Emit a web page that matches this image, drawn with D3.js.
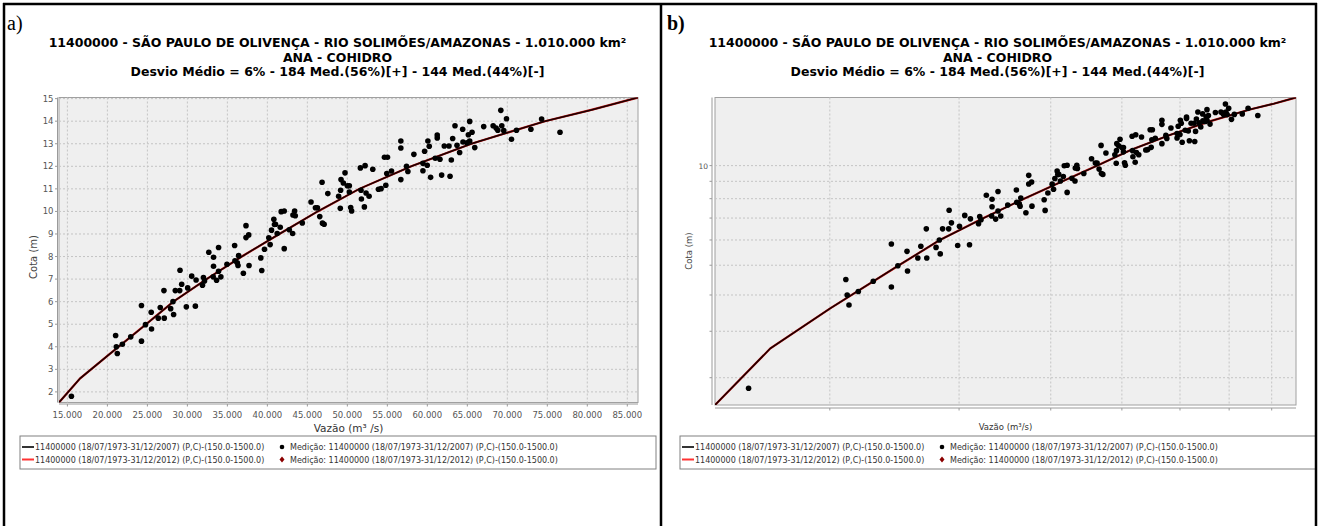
<!DOCTYPE html>
<html>
<head>
<meta charset="utf-8">
<script src="https://cdn.jsdelivr.net/npm/d3@7"></script>
<style>
  body { margin: 0; background: #fff; }
  svg { display: block; }
</style>
</head>
<body>
<svg id="chart" width="1319" height="526"></svg>
<script>
const vazaoMed = [15500, 21030, 21120, 21240, 21870, 22920, 24260, 24260, 24760, 25480, 25520, 26610, 26360, 27070, 27110, 27910,
  28200, 28280, 28490, 29040, 29080, 29290, 29870, 30040, 30540, 31000, 31090, 31890, 32010, 32140, 32680, 33270, 33270, 33230,
  33650, 33900, 33900, 34190, 34950, 35910, 35950, 36240, 36330, 36410, 37000, 37330, 37330, 37670, 37710, 39180, 39300, 39640,
  40180, 40350, 40520, 40810, 40890, 41020, 41230, 41610, 41730, 42110, 42110, 42740, 43160, 43200, 43410, 43490, 44370, 45460,
  46010, 46260, 46550, 46840, 46890, 47100, 47560,
  48910, 49160, 49210, 49120, 49500, 49710, 50000, 50250, 50250, 50420, 50540, 51630, 51710, 51760, 52130, 52220, 52340, 52720,
  53180, 53890, 54220, 54640, 55020, 54810, 54930, 55520, 56690, 56690, 56690, 57400, 57570, 58320, 59450, 59450, 59660, 59990,
  60070, 60240, 60410, 60990, 61240, 61240, 61580, 61790, 62120, 62710, 62840, 63000, 63170, 63460, 63710, 64040, 64420, 64460,
  64960, 65130, 65300, 65300, 65590, 65930, 67050, 68230, 68600, 68810, 69190, 69310, 69560, 69900, 70520, 71150, 72950, 74290,
  76590];
const cotaMed = [1.81, 4.50, 4.00, 3.70, 4.11, 4.44, 5.83, 4.25, 4.98, 5.53, 4.79, 5.74, 5.27, 6.49, 5.27, 5.69,
  6.00, 5.43, 6.49, 6.49, 7.39, 6.77, 5.77, 6.61, 7.13, 5.80, 6.96, 6.73, 7.07, 6.92, 8.19, 7.97, 7.57, 7.10,
  6.95, 8.40, 7.35, 7.10, 7.66, 8.49, 7.81, 7.72, 7.60, 8.04, 7.26, 9.37, 8.84, 8.96, 7.60, 7.94, 7.38, 8.32,
  8.83, 8.53, 9.17, 9.65, 9.42, 9.43, 9.02, 9.30, 9.99, 10.02, 8.35, 9.19, 9.02, 9.84, 10.02, 9.81, 9.49, 10.42,
  10.16, 10.16, 9.77, 11.29, 9.48, 9.43, 10.79,
  10.67, 10.94, 11.41, 10.14, 11.26, 11.71, 11.14, 11.14, 10.86, 10.17, 10.02, 11.93, 10.94, 10.55, 10.20, 12.03, 10.82, 10.67,
  11.87, 10.98, 11.01, 12.40, 12.40, 11.16, 11.68, 11.79, 13.12, 12.81, 11.41, 12.00, 11.77, 12.53, 12.13, 11.80, 12.67, 12.05,
  13.12, 12.89, 11.51, 12.36, 13.39, 13.26, 12.31, 11.61, 12.90, 12.90, 11.56, 12.28, 13.23, 13.80, 12.93, 12.61, 13.64, 13.08,
  13.04, 13.40, 13.99, 13.12, 13.51, 12.83, 13.76, 13.80, 13.70, 13.60, 14.48, 13.80, 13.58, 14.11, 13.20, 13.60, 13.64, 14.10,
  13.51];

// rating curve vertices
const curvaVazao = [13950, 16600, 20000, 24850, 28250, 32400, 36800, 41500, 46300, 51500, 58000, 65500, 74700, 80500, 86340];
const curvaCota  = [1.53, 2.6, 3.6, 5, 6, 7, 8, 9, 10, 11, 12, 13, 14, 14.5, 15.05];

const xTicks = [15000, 20000, 25000, 30000, 35000, 40000, 45000, 50000, 55000, 60000, 65000, 70000, 75000, 80000, 85000];
const yTicks = [2, 3, 4, 5, 6, 7, 8, 9, 10, 11, 12, 13, 14, 15];
const logGridX = [20000, 30000, 40000, 50000, 60000, 70000, 80000];
const logGridY = [2, 3, 4, 5, 6, 7, 8, 9, 10];
const logLabelsY = [10];

const titleLines = [
  "11400000 - SÃO PAULO DE OLIVENÇA - RIO SOLIMÕES/AMAZONAS - 1.010.000 km²",
  "ANA - COHIDRO",
  "Desvio Médio = 6% - 184 Med.(56%)[+] - 144 Med.(44%)[-]"
];
const legendRows = [
  { curve: "11400000 (18/07/1973-31/12/2007) (P,C)-(150.0-1500.0)", med: "Medição: 11400000 (18/07/1973-31/12/2007) (P,C)-(150.0-1500.0)", color: "#333333", mark: "circle" },
  { curve: "11400000 (18/07/1973-31/12/2012) (P,C)-(150.0-1500.0)", med: "Medição: 11400000 (18/07/1973-31/12/2012) (P,C)-(150.0-1500.0)", color: "#ff3333", mark: "diamond" }
];

const svg = d3.select("#chart");
const fmt = d3.formatLocale({ decimal: ",", thousands: ".", grouping: [3], currency: ["", ""] }).format(",d");
// JFreeChart LogarithmicAxis adjusted log10 (values below 10 are shifted)
const adjLog = v => Math.log10(v < 10 ? v + (10 - v) / 10 : v);

const points = vazaoMed.map((q, i) => ({ q: q, h: cotaMed[i] }));
const curve = curvaVazao.map((q, i) => ({ q: q, h: curvaCota[i] }));

function drawPanel(ox, isLog) {
  const g = svg.append("g");
  const plot = isLog ? { x0: 715, x1: 1296, y0: 97.5, y1: 405, ax: 3 } : { x0: 59, x1: 638, y0: 97.5, y1: 402.5, ax: 1.5 };
  const cx = ox + 333.5;

  let x, y;
  if (isLog) {
    x = d3.scaleLog().domain(d3.extent(curvaVazao)).range([plot.x0, plot.x1]);
    const yl = d3.scaleLinear().domain(d3.extent(curvaCota).map(adjLog)).range([plot.y1, plot.y0]);
    y = v => yl(adjLog(v));
  } else {
    x = d3.scaleLinear().domain(d3.extent(curvaVazao)).range([plot.x0, plot.x1]);
    y = d3.scaleLinear().domain(d3.extent(curvaCota)).range([plot.y1, plot.y0]);
  }

  // panel letter
  g.append("text")
    .attr("x", ox + 3)
    .attr("y", 30)
    .attr("font-family", "Liberation Serif")
    .attr("font-size", 20)
    .attr("font-weight", isLog ? "bold" : "normal")
    .text(isLog ? "b)" : "a)");

  g.selectAll(".title")
    .data(titleLines)
    .enter()
    .append("text")
    .attr("x", cx)
    .attr("y", (d, i) => 47 + i * 14.5)
    .attr("text-anchor", "middle")
    .attr("font-family", "DejaVu Sans")
    .attr("font-weight", "bold")
    .attr("font-size", 12.5)
    .text(d => d);

  g.append("rect")
    .attr("x", plot.x0)
    .attr("y", plot.y0)
    .attr("width", plot.x1 - plot.x0)
    .attr("height", plot.y1 - plot.y0)
    .attr("fill", "#efefef")
    .attr("stroke", "#a0a0a0");

  const gx = isLog ? logGridX : xTicks;
  const gy = isLog ? logGridY : yTicks;

  g.selectAll(".gx")
    .data(gx)
    .enter()
    .append("line")
    .attr("x1", d => x(d)).attr("x2", d => x(d))
    .attr("y1", plot.y0).attr("y2", plot.y1)
    .attr("stroke", "#c4c4c4")
    .attr("stroke-dasharray", "2,2");

  g.selectAll(".gy")
    .data(gy)
    .enter()
    .append("line")
    .attr("x1", plot.x0).attr("x2", plot.x1)
    .attr("y1", d => y(d)).attr("y2", d => y(d))
    .attr("stroke", "#c4c4c4")
    .attr("stroke-dasharray", "2,2");

  // axis lines, offset a little from the plot like JFreeChart does
  const axB = plot.y1 + plot.ax;
  const axL = plot.x0 - plot.ax;
  g.append("line")
    .attr("x1", plot.x0).attr("x2", plot.x1)
    .attr("y1", axB).attr("y2", axB)
    .attr("stroke", "#9a9a9a");
  g.append("line")
    .attr("x1", axL).attr("x2", axL)
    .attr("y1", plot.y0).attr("y2", plot.y1)
    .attr("stroke", "#9a9a9a");

  g.selectAll(".tx")
    .data(gx)
    .enter()
    .append("line")
    .attr("x1", d => x(d)).attr("x2", d => x(d))
    .attr("y1", axB).attr("y2", axB + 2.5)
    .attr("stroke", "#9a9a9a");

  g.selectAll(".ty")
    .data(gy)
    .enter()
    .append("line")
    .attr("x1", axL - 2.5).attr("x2", axL)
    .attr("y1", d => y(d)).attr("y2", d => y(d))
    .attr("stroke", "#9a9a9a");

  if (!isLog) {
    g.selectAll(".lx")
      .data(xTicks)
      .enter()
      .append("text")
      .attr("x", d => x(d))
      .attr("y", 418)
      .attr("text-anchor", "middle")
      .attr("font-family", "DejaVu Sans")
      .attr("font-size", 8.5)
      .attr("fill", "#555")
      .text(d => fmt(d));
  }

  g.selectAll(".ly")
    .data(isLog ? logLabelsY : yTicks)
    .enter()
    .append("text")
    .attr("x", axL - 4)
    .attr("y", d => y(d) + 3)
    .attr("text-anchor", "end")
    .attr("font-family", "DejaVu Sans")
    .attr("font-size", isLog ? 7.5 : 8.5)
    .attr("fill", "#555")
    .text(d => d);

  g.append("text")
    .attr("transform", isLog ? "translate(692,251) rotate(-90)" : "translate(37,257) rotate(-90)")
    .attr("text-anchor", "middle")
    .attr("font-family", "DejaVu Sans")
    .attr("font-size", isLog ? 8.5 : 10)
    .attr("fill", "#444")
    .text("Cota (m)");

  g.append("text")
    .attr("x", (plot.x0 + plot.x1) / 2)
    .attr("y", isLog ? 430 : 432)
    .attr("text-anchor", "middle")
    .attr("font-family", "DejaVu Sans")
    .attr("font-size", isLog ? 8.5 : 10.5)
    .attr("fill", "#333")
    .text(isLog ? "Vazão (m³/s)" : "Vazão (m³ /s)");

  // clip marks to the plot area
  const clipId = "clip" + ox;
  g.append("clipPath").attr("id", clipId)
    .append("rect")
    .attr("x", plot.x0).attr("y", plot.y0)
    .attr("width", plot.x1 - plot.x0).attr("height", plot.y1 - plot.y0);
  const marks = g.append("g").attr("clip-path", `url(#${clipId})`);

  const line = d3.line().x(d => x(d.q)).y(d => y(d.h));
  marks.append("path")
    .datum(curve)
    .attr("d", line)
    .attr("fill", "none")
    .attr("stroke", "#c01010")
    .attr("stroke-width", 2.2);
  marks.append("path")
    .datum(curve)
    .attr("d", line)
    .attr("fill", "none")
    .attr("stroke", "#1a0000")
    .attr("stroke-width", 1.5);

  marks.selectAll(".pt")
    .data(points)
    .enter()
    .append("circle")
    .attr("cx", d => x(d.q))
    .attr("cy", d => y(d.h))
    .attr("r", 2.8)
    .attr("fill", "#000");

  // legend
  const bx = ox + 16;
  const bw = 636;
  g.append("rect")
    .attr("x", bx).attr("y", 436)
    .attr("width", bw).attr("height", 33)
    .attr("fill", "#fff")
    .attr("stroke", "#808080");

  const row = g.selectAll(".leg")
    .data(legendRows)
    .enter()
    .append("g")
    .attr("transform", (d, i) => `translate(${bx},${447 + i * 12.5})`);

  row.append("line")
    .attr("x1", 2).attr("x2", 14)
    .attr("y1", 0).attr("y2", 0)
    .attr("stroke", d => d.color)
    .attr("stroke-width", 2);

  row.append("text")
    .attr("x", 15)
    .attr("y", 3)
    .attr("font-family", "DejaVu Sans")
    .attr("font-size", 8)
    .attr("fill", "#333")
    .text(d => d.curve);

  row.filter(d => d.mark === "circle")
    .append("circle")
    .attr("cx", 262).attr("cy", 0).attr("r", 2.3)
    .attr("fill", "#000");

  row.filter(d => d.mark === "diamond")
    .append("path")
    .attr("d", "M262,-3L264.5,0L262,3L259.5,0Z")
    .attr("fill", "#8b0000");

  row.append("text")
    .attr("x", 270)
    .attr("y", 3)
    .attr("font-family", "DejaVu Sans")
    .attr("font-size", 8)
    .attr("fill", "#333")
    .text(d => d.med);
}

drawPanel(4, false);
drawPanel(664, true);

// figure frame
const frame = [
  [3, 4, 1317, 4],
  [4, 3, 4, 526],
  [661, 3, 661, 526],
  [1316, 3, 1316, 526]
];
svg.selectAll(".frame")
  .data(frame)
  .enter()
  .append("line")
  .attr("x1", d => d[0]).attr("y1", d => d[1])
  .attr("x2", d => d[2]).attr("y2", d => d[3])
  .attr("stroke", "#000")
  .attr("stroke-width", 2.5);
</script>
</body>
</html>
